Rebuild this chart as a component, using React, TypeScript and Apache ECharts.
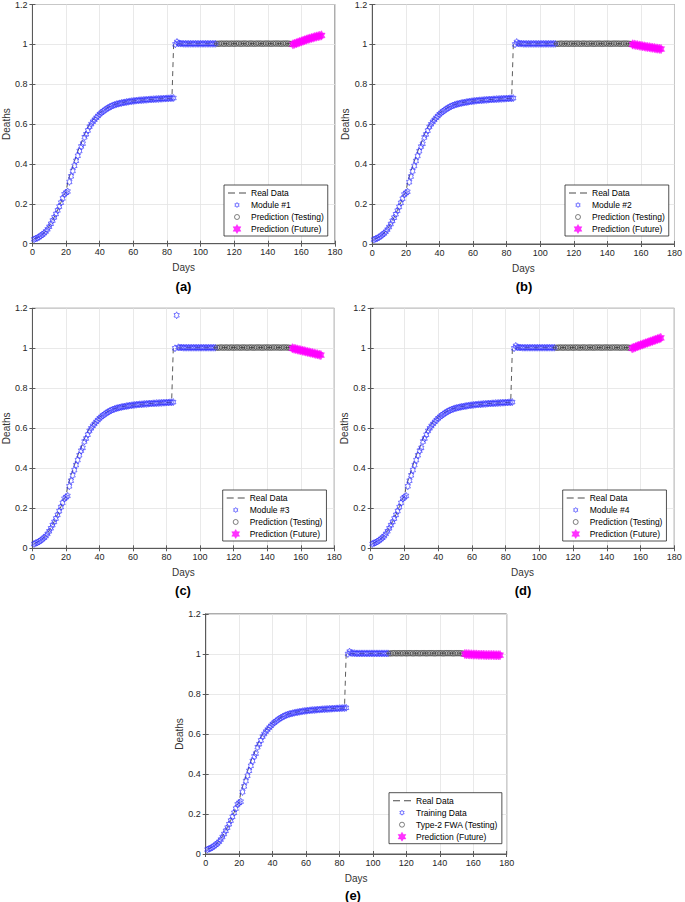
import React, { useEffect, useRef } from 'react';
import * as echarts from 'echarts';

const FONT = '"Liberation Sans", Arial, Helvetica, sans-serif';

// ---------- data ----------
const xAxisRange = { min: 0, max: 180, interval: 20 };
const yAxisRange = { min: 0, max: 1.2, interval: 0.2 };

// Real (normalized) deaths, day 1 .. 154
const REAL_START_DAY = 1;
const realDeaths = [
  0.025, 0.027, 0.031, 0.036, 0.042, 0.048, 0.055, 0.064, 0.075, 0.088,
  0.103, 0.118, 0.134, 0.151, 0.169, 0.188, 0.208, 0.229, 0.250, 0.258,
  0.308, 0.336, 0.363, 0.389, 0.414, 0.439, 0.463, 0.486, 0.500, 0.532,
  0.548, 0.567, 0.585, 0.598, 0.610, 0.621, 0.631, 0.640, 0.649, 0.656,
  0.663, 0.669, 0.675, 0.680, 0.685, 0.689, 0.693, 0.696, 0.699, 0.701,
  0.703, 0.705, 0.707, 0.709, 0.710, 0.712, 0.713, 0.714, 0.715, 0.716,
  0.717, 0.718, 0.719, 0.720, 0.720, 0.721, 0.722, 0.722, 0.723, 0.724,
  0.724, 0.725, 0.725, 0.726, 0.726, 0.727, 0.727, 0.728, 0.728, 0.729,
  0.729, 0.730, 0.730,
  1.000, 1.001, 1.001, 1.002, 1.002, 1.002, 1.003, 1.003, 1.003, 1.003,
  1.003, 1.003, 1.003, 1.003, 1.003, 1.003, 1.003, 1.003, 1.003, 1.003,
  1.003, 1.003, 1.003, 1.003, 1.003, 1.003, 1.003, 1.003, 1.004, 1.004,
  1.004, 1.004, 1.004, 1.004, 1.004, 1.004, 1.004, 1.004, 1.004, 1.004,
  1.004, 1.004, 1.004, 1.004, 1.004, 1.004, 1.004, 1.004, 1.004, 1.004,
  1.004, 1.004, 1.004, 1.004, 1.004, 1.004, 1.004, 1.004, 1.004, 1.004,
  1.004, 1.004, 1.004, 1.004, 1.004, 1.004, 1.004, 1.004, 1.004, 1.004,
  1.004,
];

// Module / training fit, day 1 .. 109
const MODULE_START_DAY = 1;
const moduleFit = [
  0.022, 0.026, 0.029, 0.034, 0.040, 0.046, 0.053, 0.061, 0.072, 0.085,
  0.100, 0.116, 0.132, 0.149, 0.167, 0.186, 0.206, 0.227, 0.248, 0.256,
  0.262, 0.310, 0.338, 0.365, 0.391, 0.416, 0.441, 0.465, 0.488, 0.502,
  0.534, 0.549, 0.568, 0.587, 0.600, 0.612, 0.622, 0.632, 0.641, 0.650,
  0.657, 0.664, 0.670, 0.676, 0.681, 0.686, 0.690, 0.694, 0.697, 0.700,
  0.702, 0.704, 0.706, 0.708, 0.709, 0.711, 0.712, 0.714, 0.715, 0.716,
  0.717, 0.718, 0.719, 0.720, 0.720, 0.721, 0.722, 0.722, 0.723, 0.724,
  0.724, 0.725, 0.725, 0.726, 0.726, 0.727, 0.727, 0.728, 0.728, 0.729,
  0.729, 0.730, 0.730, 0.731,
  1.000, 1.012, 1.005, 1.004, 1.004, 1.003, 1.003, 1.003, 1.003, 1.003,
  1.003, 1.003, 1.003, 1.003, 1.003, 1.003, 1.003, 1.003, 1.003, 1.003,
  1.003, 1.003, 1.003, 1.003, 1.003,
];
const module3Outlier = { day: 86, value: 1.165 };

// Testing predictions, day 110 .. 154
const TESTING_START_DAY = 110;
const testingPred = [
  1.003, 1.003, 1.004, 1.004, 1.003, 1.004, 1.004, 1.003, 1.004, 1.004,
  1.003, 1.004, 1.004, 1.004, 1.003, 1.004, 1.004, 1.004, 1.003, 1.004,
  1.004, 1.004, 1.003, 1.004, 1.004, 1.004, 1.004, 1.003, 1.004, 1.004,
  1.004, 1.004, 1.003, 1.004, 1.004, 1.004, 1.004, 1.004, 1.003, 1.004,
  1.004, 1.004, 1.004, 1.003, 1.002,
];

// Future predictions, from day 155
const FUTURE_START_DAY = 155;
const futureA = [1.000, 1.003, 1.006, 1.009, 1.012, 1.015, 1.018, 1.021, 1.024, 1.027, 1.029, 1.032, 1.034, 1.037, 1.039, 1.041, 1.043, 1.045];
const futureB = [1.000, 0.999, 0.997, 0.996, 0.994, 0.993, 0.991, 0.990, 0.988, 0.987, 0.986, 0.984, 0.983, 0.982, 0.980, 0.979, 0.978, 0.977];
const futureC = [1.000, 0.998, 0.996, 0.994, 0.992, 0.990, 0.988, 0.986, 0.984, 0.982, 0.980, 0.978, 0.976, 0.974, 0.972, 0.970, 0.968, 0.966];
const futureD = [1.000, 1.003, 1.006, 1.010, 1.013, 1.016, 1.019, 1.022, 1.025, 1.028, 1.031, 1.034, 1.037, 1.040, 1.043, 1.046, 1.049, 1.052];
const futureE = [1.000, 0.999, 0.999, 0.998, 0.998, 0.997, 0.997, 0.997, 0.996, 0.996, 0.996, 0.996, 0.995, 0.995, 0.995, 0.995, 0.995, 0.995, 0.994, 0.994, 0.994, 0.994];

const panelLabels = ['(a)', '(b)', '(c)', '(d)', '(e)'];
const trainingNames = ['Module #1', 'Module #2', 'Module #3', 'Module #4', 'Training Data'];
const testingNames = ['Prediction (Testing)', 'Prediction (Testing)', 'Prediction (Testing)', 'Prediction (Testing)', 'Type-2 FWA (Testing)'];
const realName = 'Real Data';
const futureName = 'Prediction (Future)';
const xName = 'Days';
const yName = 'Deaths';

// ---------- layout / style ----------
const layouts = [
  { grid: { left: 31.7, top: 3.7, width: 303.3, height: 240 }, legend: { left: 224, top: 185 }, label: [183.5, 286] },
  { grid: { left: 372.3, top: 4, width: 303.7, height: 240 }, legend: { left: 565, top: 185 }, label: [524, 286] },
  { grid: { left: 30.7, top: 308.3, width: 303.6, height: 240 }, legend: { left: 222.7, top: 490 }, label: [183, 590] },
  { grid: { left: 370.7, top: 308.3, width: 303.6, height: 240 }, legend: { left: 562.7, top: 490 }, label: [523, 590] },
  { grid: { left: 205.7, top: 614, width: 301, height: 240 }, legend: { left: 389, top: 792.7 }, label: [353, 895] },
];

const AXIS_COLOR = '#5a5a5a';
const TEXT_COLOR = '#262626';
const GRID_COLOR = '#e3e3e3';
const BLUE = '#3030ff';
const MAGENTA = '#ff00ff';
const CIRCLE_COLOR = '#3a3a3a';
const LINE_COLOR = '#4a4a4a';

const HEX_PATH = 'M100 0L71.13 50L13.4 50L42.26 100L13.4 150L71.13 150L100 200L128.87 150L186.6 150L157.74 100L186.6 50L128.87 50Z';
const HEX_SYMBOL = 'path://' + HEX_PATH;
const HEX_LEGEND_SMALL = 'path://M-80 -80 ' + HEX_PATH + ' M280 280';
const CIRCLE_LEGEND_SMALL = 'path://M-40 -40 M0 50A50 50 0 1 1 100 50A50 50 0 1 1 0 50Z M140 140';
const DASH_LEGEND = 'path://M0 0H7V1H0Z M11 0H18V1H11Z';

const toPairs = (arr: number[], start: number) => arr.map((v, i) => [start + i, v]);

function buildOption() {
  const futures = [futureA, futureB, futureC, futureD, futureE];
  const grid: any[] = [];
  const xAxis: any[] = [];
  const yAxis: any[] = [];
  const legend: any[] = [];
  const series: any[] = [];
  const graphic: any[] = [];

  layouts.forEach((l, i) => {
    grid.push({ ...l.grid, show: true, borderColor: AXIS_COLOR, borderWidth: 1, backgroundColor: '#fff' });
    const axisCommon = {
      type: 'value',
      gridIndex: i,
      axisLine: { show: true, lineStyle: { color: AXIS_COLOR, width: 1 } },
      axisTick: { show: true, inside: true, length: 3, lineStyle: { color: AXIS_COLOR, width: 1 } },
    };
    xAxis.push({
      ...axisCommon,
      position: 'bottom',
      ...xAxisRange,
      axisLabel: { fontSize: 9, color: TEXT_COLOR, fontFamily: FONT, margin: 4 },
      splitLine: { show: true, lineStyle: { color: GRID_COLOR, width: 0.8 } },
      name: xName,
      nameLocation: 'middle',
      nameGap: 19,
      nameTextStyle: { fontSize: 10, color: '#333', fontFamily: FONT },
    });
    xAxis.push({
      ...axisCommon,
      position: 'top',
      ...xAxisRange,
      axisLabel: { show: false },
      splitLine: { show: false },
    });
    yAxis.push({
      ...axisCommon,
      position: 'left',
      ...yAxisRange,
      axisLabel: { fontSize: 9, color: TEXT_COLOR, fontFamily: FONT, margin: 5 },
      splitLine: { show: true, lineStyle: { color: GRID_COLOR, width: 0.8 } },
      name: yName,
      nameLocation: 'middle',
      nameGap: 21,
      nameRotate: 90,
      nameTextStyle: { fontSize: 10, color: '#333', fontFamily: FONT },
    });
    yAxis.push({
      ...axisCommon,
      position: 'right',
      ...yAxisRange,
      axisLabel: { show: false },
      splitLine: { show: false },
    });

    const ax = { xAxisIndex: 2 * i, yAxisIndex: 2 * i };
    const moduleData = toPairs(moduleFit, MODULE_START_DAY).map(([d, v]) =>
      i === 2 && d === module3Outlier.day ? [d, module3Outlier.value] : [d, v]
    );

    series.push({
      type: 'line', name: realName, ...ax,
      data: toPairs(realDeaths, REAL_START_DAY),
      symbol: 'none', showSymbol: false, silent: true,
      lineStyle: { color: LINE_COLOR, width: 0.9, type: [5, 4] },
      z: 2,
    });
    series.push({
      type: 'scatter', name: trainingNames[i], ...ax,
      data: moduleData,
      symbol: HEX_SYMBOL, symbolSize: [6.1, 7], symbolKeepAspect: true,
      itemStyle: { color: 'rgba(0,0,0,0)', borderColor: BLUE, borderWidth: 0.8 },
      silent: true, z: 3,
    });
    series.push({
      type: 'scatter', name: testingNames[i], ...ax,
      data: toPairs(testingPred, TESTING_START_DAY),
      symbol: 'circle', symbolSize: 5.4,
      itemStyle: { color: 'rgba(0,0,0,0)', borderColor: CIRCLE_COLOR, borderWidth: 0.8 },
      silent: true, z: 4,
    });
    series.push({
      type: 'scatter', name: futureName, ...ax,
      data: toPairs(futures[i], FUTURE_START_DAY),
      symbol: HEX_SYMBOL, symbolSize: [8.2, 9.5], symbolKeepAspect: true,
      itemStyle: { color: MAGENTA, borderColor: MAGENTA, borderWidth: 0.5 },
      silent: true, z: 5,
    });

    legend.push({
      orient: 'vertical',
      left: l.legend.left,
      top: l.legend.top,
      padding: [2, 4, 1, 4],
      itemGap: 0,
      itemWidth: 18,
      itemHeight: 9,
      selectedMode: false,
      backgroundColor: '#fff',
      borderColor: '#262626',
      borderWidth: 0.8,
      borderRadius: 0,
      textStyle: { fontSize: 8.5, color: '#000', fontFamily: FONT, lineHeight: 12 },
      data: [
        { name: realName, icon: DASH_LEGEND, itemStyle: { color: LINE_COLOR, borderWidth: 0 } },
        { name: trainingNames[i], icon: HEX_LEGEND_SMALL, itemStyle: { color: 'rgba(0,0,0,0)', borderColor: BLUE, borderWidth: 0.8 } },
        { name: testingNames[i], icon: CIRCLE_LEGEND_SMALL, itemStyle: { color: 'rgba(0,0,0,0)', borderColor: CIRCLE_COLOR, borderWidth: 0.8 } },
        { name: futureName, icon: HEX_SYMBOL, itemStyle: { color: MAGENTA, borderColor: MAGENTA, borderWidth: 0.5 } },
      ],
    });

    graphic.push({
      type: 'text',
      x: l.label[0],
      y: l.label[1],
      style: {
        text: panelLabels[i],
        fontSize: 13,
        fontWeight: 'bold',
        fontFamily: FONT,
        fill: '#000',
        align: 'center',
        verticalAlign: 'middle',
      },
    });
  });

  return { animation: false, backgroundColor: '#fff', grid, xAxis, yAxis, legend, series, graphic };
}

export default function App() {
  const ref = useRef<HTMLDivElement>(null);
  useEffect(() => {
    if (!ref.current) return;
    const chart = echarts.init(ref.current, undefined, { renderer: 'svg' });
    chart.setOption(buildOption() as any);
    return () => chart.dispose();
  }, []);
  return (
    <div
      ref={ref}
      style={{ position: 'absolute', left: 0, top: 0, width: 685, height: 902, background: '#fff' }}
    />
  );
}
